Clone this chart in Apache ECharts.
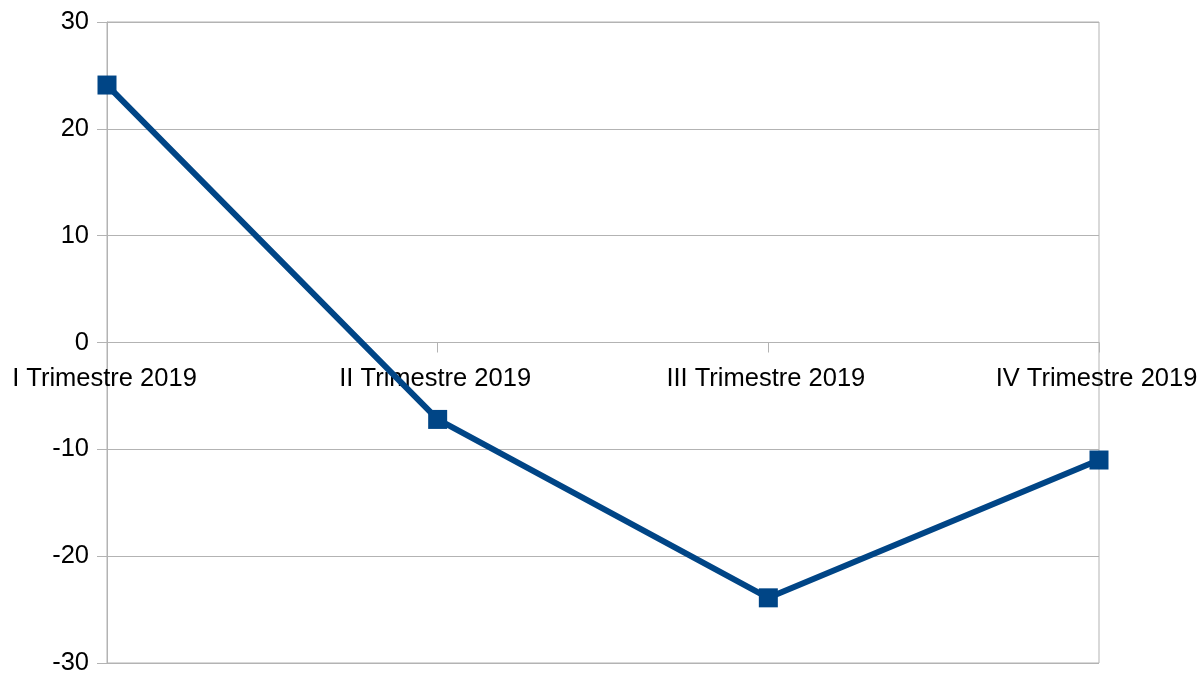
<!DOCTYPE html>
<html>
<head>
<meta charset="utf-8">
<script src="https://cdn.jsdelivr.net/npm/echarts@6/dist/echarts.min.js"></script>
<style>
  html, body { margin: 0; padding: 0; background: #fff; }
  #chart { width: 1201px; height: 673px; }
</style>
</head>
<body>
<div id="chart"></div>
<script>
// quarters and values
const categories = ['I Trimestre 2019', 'II Trimestre 2019', 'III Trimestre 2019', 'IV Trimestre 2019']
const values = [24.1, -7.2, -23.9, -11.0]
const yMin = -30
const yMax = 30
const yStep = 10

const gray = '#b3b3b3'
const font = 'Liberation Sans, Arial, sans-serif'

const gridTop = 22
const gridBottom = 10
const plotHeight = 673 - gridTop - gridBottom

const chart = echarts.init(document.getElementById('chart'))
chart.setOption({
  animation: false,
  grid: {
    left: 107,
    right: 102,
    top: gridTop,
    bottom: gridBottom,
    outerBoundsMode: 'none',
    containLabel: false,
    show: true,
    borderColor: gray,
    borderWidth: 1
  },
  xAxis: {
    type: 'category',
    data: categories,
    boundaryGap: false,
    position: 'bottom',
    // category axis sits on the zero line, labels below it
    offset: -plotHeight * (0 - yMin) / (yMax - yMin),
    axisLine: { onZero: false, lineStyle: { color: gray, width: 1 } },
    axisTick: { show: true, length: 10, lineStyle: { color: gray } },
    axisLabel: {
      color: '#000',
      fontSize: 25.5,
      fontFamily: font,
      margin: 23,
      padding: [0, 5, 0, 0],
      interval: 0,
      showMinLabel: true,
      showMaxLabel: true
    },
    splitLine: { show: false }
  },
  yAxis: {
    type: 'value',
    min: yMin,
    max: yMax,
    interval: yStep,
    axisLine: { show: true, lineStyle: { color: gray, width: 1 } },
    axisTick: { show: true, length: 10, lineStyle: { color: gray } },
    axisLabel: {
      color: '#000',
      fontSize: 25.5,
      fontFamily: font,
      margin: 18
    },
    splitLine: { show: true, lineStyle: { color: gray, width: 1 } }
  },
  series: [
    {
      type: 'line',
      data: values,
      symbol: 'rect',
      symbolSize: 19,
      itemStyle: { color: '#004586' },
      lineStyle: { color: '#004586', width: 6 }
    }
  ]
})
</script>
</body>
</html>
